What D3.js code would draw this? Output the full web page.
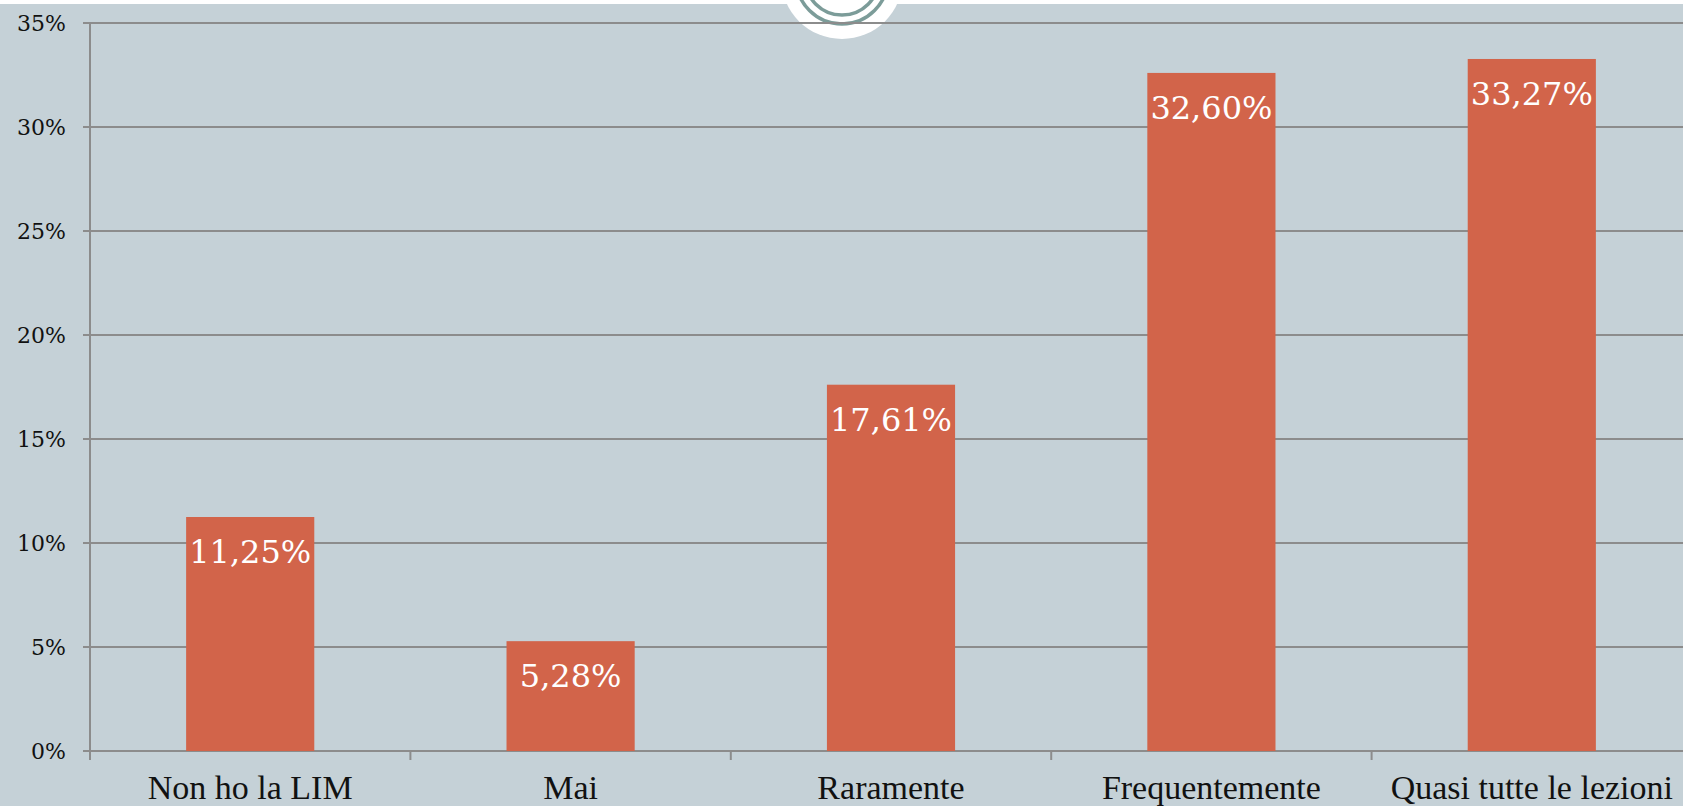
<!DOCTYPE html>
<html>
<head>
<meta charset="utf-8">
<script src="https://cdn.jsdelivr.net/npm/d3@7"></script>
<style>
  html, body { margin: 0; padding: 0; background: #fff; overflow: hidden; }
  svg { display: block; }
</style>
</head>
<body>
<svg id="chart"></svg>
<script>
const categories = ['Non ho la LIM', 'Mai', 'Raramente', 'Frequentemente', 'Quasi tutte le lezioni'];
const values = [11.25, 5.28, 17.61, 32.60, 33.27];
const yTicks = [0, 5, 10, 15, 20, 25, 30, 35];

const W = 1683, H = 806;
const margin = {top: 23, left: 90, bottom: 55};
const plotRight = 1692;

const svg = d3.select('#chart').attr('width', W).attr('height', H);

// background
svg.append('rect').attr('width', W).attr('height', H).attr('fill', '#fff');
svg.append('rect').attr('y', 4).attr('width', W).attr('height', H - 4).attr('fill', '#c5d1d7');

// header ornament
const orn = svg.append('g').attr('transform', 'translate(842,-22)');
orn.append('circle').attr('r', 61).attr('fill', '#fff');
orn.selectAll('.ring').data([46, 37]).enter().append('circle')
  .attr('r', d => d).attr('fill', 'none')
  .attr('stroke', '#7c9c99').attr('stroke-width', 3.5);

const y = d3.scaleLinear().domain([0, 35]).range([H - margin.bottom, margin.top]);
const x = d3.scaleBand().domain(categories)
  .range([margin.left, plotRight])
  .paddingInner(0.6).paddingOuter(0.3);

const gridColor = '#8c8c8c';

// gridlines
svg.selectAll('.grid').data(yTicks).enter().append('line')
  .attr('x1', margin.left - 7).attr('x2', plotRight)
  .attr('y1', d => y(d)).attr('y2', d => y(d))
  .attr('stroke', gridColor).attr('stroke-width', 2);

// y axis line
svg.append('line')
  .attr('x1', margin.left).attr('x2', margin.left)
  .attr('y1', y(35)).attr('y2', y(0) + 9)
  .attr('stroke', gridColor).attr('stroke-width', 2);

// category ticks
svg.selectAll('.ctick').data(d3.range(categories.length + 1)).enter().append('line')
  .attr('x1', i => margin.left + i * x.step()).attr('x2', i => margin.left + i * x.step())
  .attr('y1', y(0)).attr('y2', y(0) + 9)
  .attr('stroke', gridColor).attr('stroke-width', 2);

// y tick labels
svg.selectAll('.ylab').data(yTicks).enter().append('text')
  .attr('x', 66).attr('y', d => y(d) + 8)
  .attr('text-anchor', 'end')
  .attr('font-family', '"DejaVu Serif", serif').attr('font-size', 22)
  .attr('fill', '#111')
  .text(d => d + '%');

// bars
svg.selectAll('.bar').data(values).enter().append('rect')
  .attr('x', (d, i) => x(categories[i]))
  .attr('width', x.bandwidth())
  .attr('y', d => y(d))
  .attr('height', d => y(0) - y(d))
  .attr('fill', '#d2644a');

// value labels
svg.selectAll('.val').data(values).enter().append('text')
  .attr('x', (d, i) => x(categories[i]) + x.bandwidth() / 2)
  .attr('y', d => y(d) + 46)
  .attr('text-anchor', 'middle')
  .attr('font-family', '"DejaVu Serif", serif').attr('font-size', 32)
  .attr('fill', '#fff')
  .text(d => d.toFixed(2).replace('.', ',') + '%');

// category labels
svg.selectAll('.xlab').data(categories).enter().append('text')
  .attr('x', d => x(d) + x.bandwidth() / 2)
  .attr('y', 799)
  .attr('text-anchor', 'middle')
  .attr('font-family', '"Liberation Serif", "Times New Roman", serif').attr('font-size', 34)
  .attr('fill', '#111')
  .text(d => d);
</script>
</body>
</html>
